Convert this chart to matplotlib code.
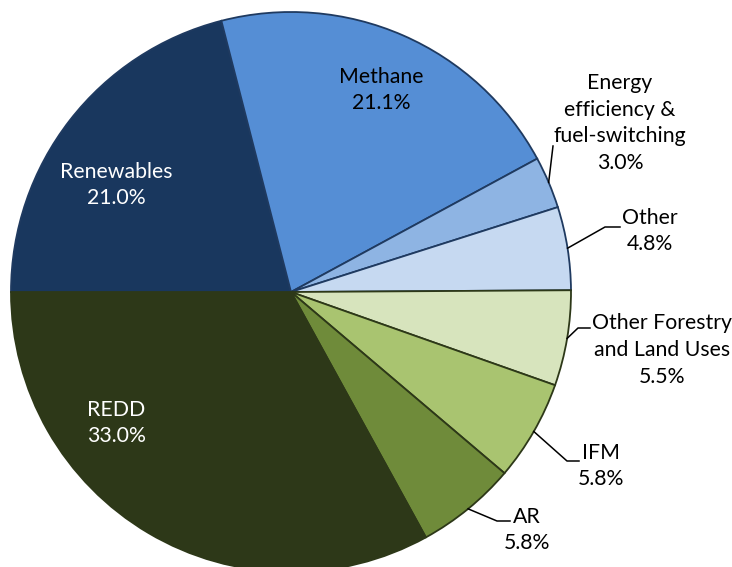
import numpy as np
import matplotlib.pyplot as plt

labels = ["Renewables", "Methane", "Energy\nefficiency &\nfuel-switching", "Other",
          "Other Forestry\nand Land Uses", "IFM", "AR", "REDD"]
shares = [21.0, 21.1, 3.0, 4.8, 5.5, 5.8, 5.8, 33.0]
colors = ["#19375E", "#558ED5", "#8EB4E3", "#C6D9F1",
          "#D7E4BD", "#A9C470", "#6F8B3A", "#2D3818"]
edges = ["#1F3A60"] * 4 + ["#2D3818"] * 4

W, H = 732, 567
cx, cy, r = 291, H - 292, 280

fig = plt.figure(figsize=(W / 100, H / 100), dpi=100)
ax = fig.add_axes([0, 0, 1, 1])

wedges, _ = ax.pie(shares, colors=colors, startangle=180, counterclock=False,
                   center=(cx, cy), radius=r,
                   wedgeprops=dict(linewidth=1.3))
for w, ec in zip(wedges, edges):
    w.set_edgecolor(ec)

ax.set_xlim(0, W)
ax.set_ylim(0, H)
ax.set_aspect('equal')
ax.axis('off')

font = dict(family="Lato", fontsize=15.3, ha="center", va="center", linespacing=1.42)

# label block centres (pixel coords from top) and text colour
label_pos = {
    0: (116, 185, "white"),
    1: (381, 90, "black"),
    2: (620, 123, "black"),
    3: (650, 231, "black"),
    4: (662, 350, "black"),
    5: (601, 466, "black"),
    6: (527, 530, "black"),
    7: (116, 423, "white"),
}
for i, (x, y, c) in label_pos.items():
    ax.text(x, H - y, f"{labels[i]}\n{shares[i]:.1f}%", color=c, **font)

# leader lines: from rim at wedge middle to elbow, then short horizontal
leaders = {
    2: [(553, 146)],
    3: [(605, 227), (620, 227)],
    4: [(578, 328), (590, 328)],
    5: [(567, 461), (579, 461)],
    6: [(497, 521), (510, 521)],
}
for i, pts in leaders.items():
    w = wedges[i]
    mid = np.deg2rad((w.theta1 + w.theta2) / 2)
    xs = [cx + r * np.cos(mid)] + [p[0] for p in pts]
    ys = [cy + r * np.sin(mid)] + [H - p[1] for p in pts]
    ax.plot(xs, ys, color="black", linewidth=1.1, clip_on=False)

fig.savefig("out.png", dpi=100)
